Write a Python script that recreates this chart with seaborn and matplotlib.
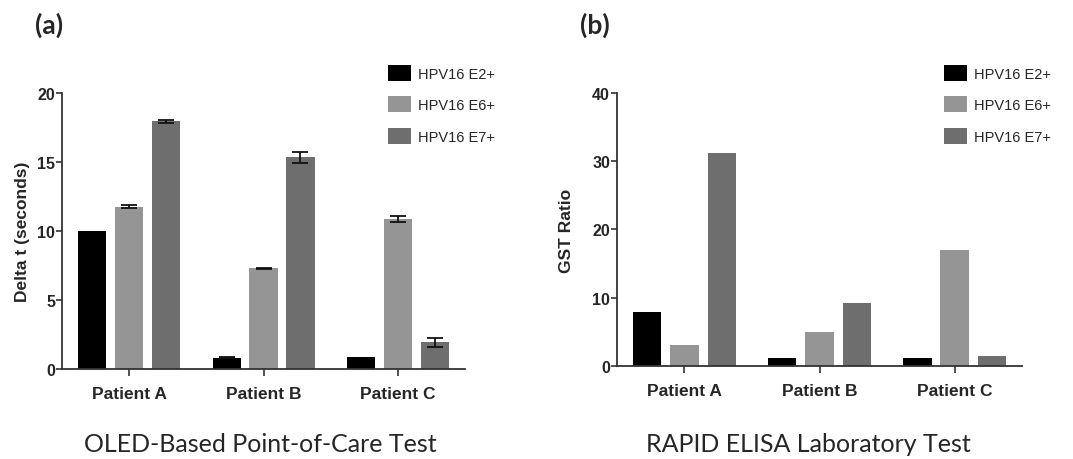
import pandas as pd
import numpy as np
import matplotlib
matplotlib.use("Agg")
import matplotlib.pyplot as plt
import seaborn as sns

# data
patients = ["Patient A", "Patient B", "Patient C"]
markers = ["HPV16 E2+", "HPV16 E6+", "HPV16 E7+"]

# (a) OLED point-of-care, delta t (seconds)
oled_e2 = [10.0, 0.8, 0.9]
oled_e6 = [11.75, 7.3, 10.85]
oled_e7 = [17.95, 15.35, 1.93]
oled_e2_err = [0.0, 0.04, 0.0]
oled_e6_err = [0.12, 0.05, 0.22]
oled_e7_err = [0.1, 0.4, 0.35]

# (b) RAPID ELISA, GST ratio
elisa_e2 = [7.9, 1.2, 1.2]
elisa_e6 = [3.1, 5.0, 17.0]
elisa_e7 = [31.2, 9.3, 1.4]

colors = ["#000000", "#959595", "#6e6e6e"]

sns.set_style("ticks")
plt.rcParams["font.family"] = ["Liberation Sans", "DejaVu Sans"]


def make_df(e2, e6, e7):
    rows = []
    for m, vals in zip(markers, [e2, e6, e7]):
        for p, v in zip(patients, vals):
            rows.append({"patient": p, "marker": m, "value": v})
    return pd.DataFrame(rows)


fig = plt.figure(figsize=(10.73, 4.6), dpi=100)
ax1 = fig.add_axes([0.0578, 0.1957, 0.3756, 0.6])
ax2 = fig.add_axes([0.575, 0.2022, 0.3775, 0.5935])

df_a = make_df(oled_e2, oled_e6, oled_e7)
df_b = make_df(elisa_e2, elisa_e6, elisa_e7)

for ax, df in [(ax1, df_a), (ax2, df_b)]:
    sns.barplot(data=df, x="patient", y="value", hue="marker", palette=colors,
                width=0.825, gap=0.24, errorbar=None, ax=ax, legend=True,
                saturation=1, edgecolor="none")

# error bars on panel a
errs = [oled_e2_err, oled_e6_err, oled_e7_err]
for cont, err in zip(ax1.containers, errs):
    for bar, e in zip(cont, err):
        if e <= 0:
            continue
        xc = bar.get_x() + bar.get_width() / 2
        ax1.errorbar(xc, bar.get_height(), yerr=e, fmt="none", ecolor="#111111",
                     elinewidth=1.3, capsize=6, capthick=1.3)

ax1.set_ylim(0, 20)
ax1.set_yticks([0, 5, 10, 15, 20])
ax2.set_ylim(0, 40)
ax2.set_yticks([0, 10, 20, 30, 40])

ax1.set_ylabel("Delta t (seconds)", fontsize=12.5, fontweight="bold", labelpad=5)
ax2.set_ylabel("GST Ratio", fontsize=12.5, fontweight="bold", labelpad=13)

for ax in [ax1, ax2]:
    ax.set_xlim(-0.5, 2.5)
    ax.set_xlabel("")
    sns.despine(ax=ax)
    for s in ["left", "bottom"]:
        ax.spines[s].set_color("#333333")
        ax.spines[s].set_linewidth(1.3)
    ax.tick_params(axis="y", length=4, width=1.2, color="#333333", pad=1,
                   labelsize=11.5)
    ax.tick_params(axis="x", length=5, width=1.2, color="#333333", pad=7,
                   labelsize=12.5)
    for lab in ax.get_xticklabels() + ax.get_yticklabels():
        lab.set_fontweight("bold")
    ax.get_legend().remove()

for ax, xleft in [(ax1, 0.3616), (ax2, 0.8798)]:
    h, l = ax.get_legend_handles_labels()
    fig.legend(h, l, loc="upper left", bbox_to_anchor=(xleft, 0.857),
               frameon=False, fontsize=10.5, handlelength=1.55, handleheight=1.3,
               handletextpad=0.5, labelspacing=1.08, borderpad=0, borderaxespad=0)

fig.text(0.033, 0.944, "(a)", fontsize=19, fontweight="bold", family="Lato",
         va="center", ha="left")
fig.text(0.5405, 0.944, "(b)", fontsize=19, fontweight="bold", family="Lato",
         va="center", ha="left")

fig.text(0.2423, 0.0174, "OLED-Based Point-of-Care Test", fontsize=18,
         family="Lato", ha="center", va="baseline")
fig.text(0.753, 0.0174, "RAPID ELISA Laboratory Test", fontsize=18,
         family="Lato", ha="center", va="baseline")

fig.savefig("out.png", dpi=100)
